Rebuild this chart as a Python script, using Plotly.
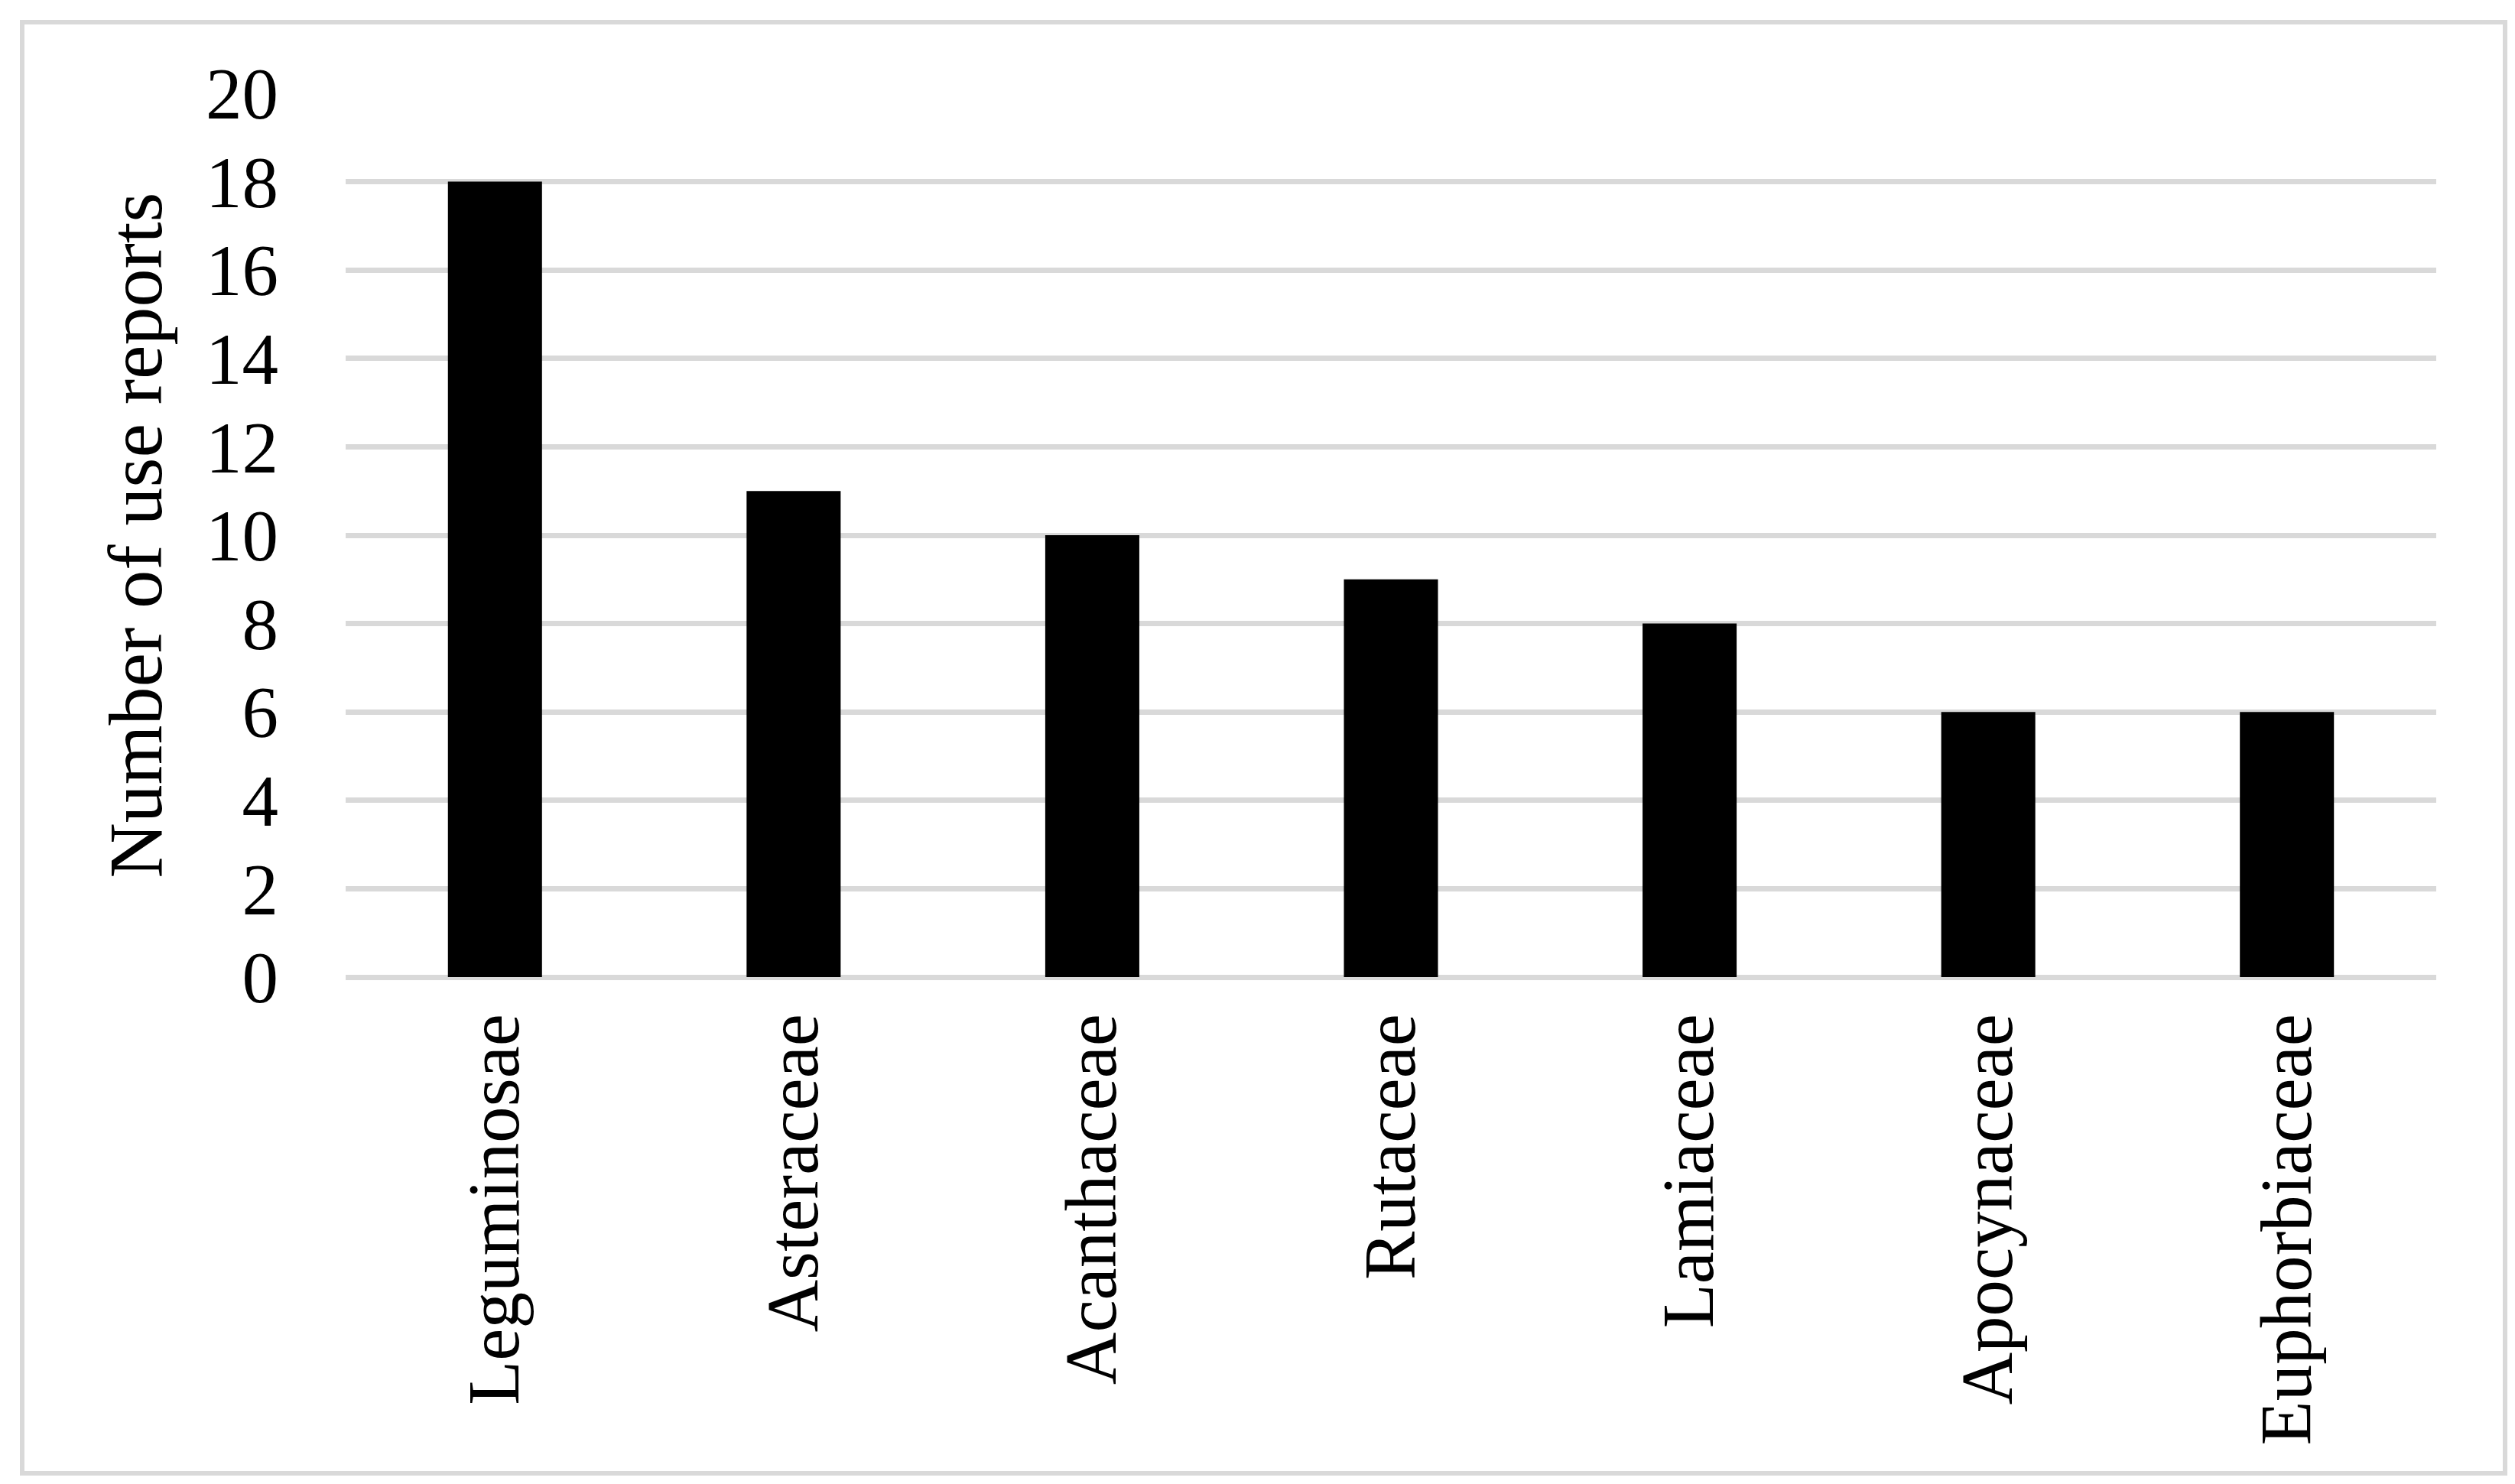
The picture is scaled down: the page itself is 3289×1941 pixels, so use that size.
import plotly.graph_objects as go

families = ["Leguminosae", "Asteraceae", "Acanthaceae", "Rutaceae", "Lamiaceae", "Apocynaceae", "Euphorbiaceae"]
use_reports = [18, 11, 10, 9, 8, 6, 6]
y_ticks = [0, 2, 4, 6, 8, 10, 12, 14, 16, 18, 20]

W, H = 3289, 1941
L, R, T, B = 444, 3178, 114, 1270

fig = go.Figure(go.Bar(
    x=families, y=use_reports,
    marker=dict(color="#000000", line=dict(width=0)),
))

pw, ph = R - L, B - T
def px(x):
    return (x - L) / pw
def py(y):
    return (B - y) / ph

fig.add_shape(type="rect", xref="paper", yref="paper",
              x0=px(21), x1=px(3268), y0=py(1919), y1=py(21),
              line=dict(color="#d9d9d9", width=6), fillcolor="rgba(0,0,0,0)", layer="below")

fig.update_layout(
    width=W, height=H,
    margin=dict(l=L, r=W - R, t=T, b=H - B, pad=0),
    paper_bgcolor="white", plot_bgcolor="white",
    font=dict(family="Liberation Serif", color="black", size=95),
    bargap=0.685,
    showlegend=False,
    xaxis=dict(tickangle=-90, showgrid=False, showline=False, ticks="",
               tickfont=dict(size=95), ticklabelstandoff=28),
    yaxis=dict(range=[0, 20], tickvals=y_ticks, showgrid=True, gridcolor="#d9d9d9", gridwidth=7,
               zeroline=True, zerolinecolor="#d9d9d9", zerolinewidth=7,
               showline=False, ticks="", tickfont=dict(size=95), ticklabelstandoff=87,
               title=dict(text="Number of use reports", font=dict(size=100), standoff=24)),
)

fig.write_html("out.html")
